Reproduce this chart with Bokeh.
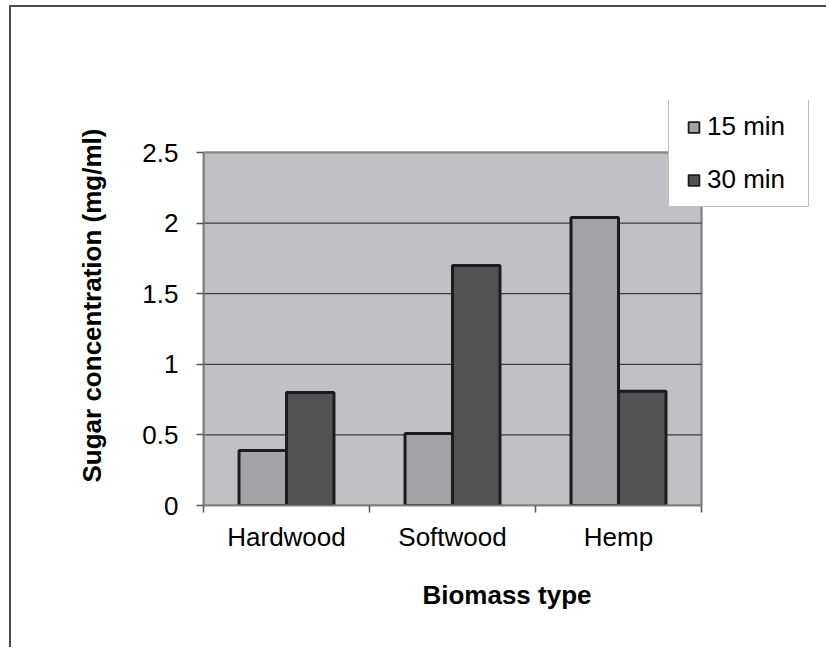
import numpy as np
from bokeh.plotting import figure
from bokeh.models import (Range1d, FixedTicker, Legend, LegendItem, Title,
                          ColumnDataSource, BoxAnnotation)
from bokeh.transform import dodge
from bokeh.embed import file_html
from bokeh.resources import INLINE

# ---- data ----
categories = ["Hardwood", "Softwood", "Hemp"]
series_names = ["15 min", "30 min"]
values_15 = [0.39, 0.51, 2.04]
values_30 = [0.80, 1.70, 0.81]
y_ticks = [0, 0.5, 1, 1.5, 2, 2.5]
x_title = "Biomass type"
y_title = "Sugar concentration (mg/ml)"

# ---- style / layout ----
FONT = "Liberation Sans"
FS = "26px"
BAR_W = 0.286
C15 = "#a2a3a7"
C30 = "#525254"
EDGE = "#1c1c1c"
PLOT_W, PLOT_H = 498, 353       # pixel size of the grey plot area
FRAME_W, FRAME_H = 607, 405     # frame enlarged so that the legend can overlap

n = len(categories)
y_top = y_ticks[-1]
pos = np.arange(n) + 0.5
src = ColumnDataSource(dict(x=pos, v15=values_15, v30=values_30))

p = figure(frame_width=FRAME_W, frame_height=FRAME_H,
           x_range=Range1d(0, n * FRAME_W / PLOT_W),
           y_range=Range1d(0, y_top * FRAME_H / PLOT_H),
           output_backend="svg", toolbar_location=None,
           min_border_left=192, min_border_right=16,
           min_border_top=93, min_border_bottom=142)
p.styles = {"margin-left": "9px", "margin-top": "5px",
            "border-left": "2px solid #4a4a4a", "border-top": "2px solid #4a4a4a"}

p.background_fill_color = "white"
p.border_fill_color = "white"
p.outline_line_color = None

# grey plot area with its border
p.add_layout(BoxAnnotation(left=0, right=n, bottom=0, top=y_top, level="image",
                           fill_color="#c0c1c5", fill_alpha=1,
                           line_color="#8a8a8a", line_width=2.5, line_alpha=1))

# horizontal gridlines, limited to the plot area
gvals = [t for t in y_ticks if 0 < t < y_top]
p.segment(x0=[0] * len(gvals), x1=[n] * len(gvals), y0=gvals, y1=gvals,
          line_color="#3c3c3c", line_width=1.2, level="underlay")

# bars
p.vbar(x=dodge("x", -BAR_W / 2), top="v15", width=BAR_W, bottom=0, source=src,
       fill_color=C15, line_color=EDGE, line_width=3)
p.vbar(x=dodge("x", BAR_W / 2), top="v30", width=BAR_W, bottom=0, source=src,
       fill_color=C30, line_color=EDGE, line_width=3)

# x axis
p.xaxis.ticker = FixedTicker(ticks=list(pos), minor_ticks=list(range(n + 1)))
p.xaxis.bounds = (0, n)
p.xaxis.major_label_overrides = {float(v): c for v, c in zip(pos, categories)}
p.xaxis.major_tick_out = 0
p.xaxis.major_tick_in = 0
p.xaxis.minor_tick_out = 7
p.xaxis.minor_tick_in = 0
p.xaxis.minor_tick_line_color = "#555555"
p.xaxis.minor_tick_line_width = 1.5
p.xaxis.major_label_standoff = 9
p.xaxis.axis_label = x_title
p.xaxis.axis_label_standoff = 25
p.xaxis.axis_label_text_font = FONT
p.xaxis.axis_label_text_font_size = FS
p.xaxis.axis_label_text_font_style = "bold"
p.xaxis.axis_label_text_color = "black"

# y axis
p.yaxis.ticker = FixedTicker(ticks=y_ticks)
p.yaxis.bounds = (0, y_top)
p.yaxis.minor_tick_out = 0
p.yaxis.minor_tick_in = 0
p.yaxis.major_tick_out = 7
p.yaxis.major_tick_in = 0
p.yaxis.major_tick_line_color = "#555555"
p.yaxis.major_tick_line_width = 1.5
p.yaxis.major_label_standoff = 18

for ax in (p.xaxis[0], p.yaxis[0]):
    ax.axis_line_color = "#808080"
    ax.axis_line_width = 2
    ax.major_label_text_font = FONT
    ax.major_label_text_font_size = FS
    ax.major_label_text_color = "black"

p.xgrid.visible = False
p.ygrid.visible = False

# y title
p.add_layout(Title(text=y_title, align="left", offset=23, standoff=66,
                   text_font=FONT, text_font_size=FS, text_font_style="bold",
                   text_color="black"), "left")

# legend swatches (renderers with a single non-drawn point)
s15 = p.scatter(x=[np.nan], y=[np.nan], marker="square", size=11, fill_color=C15,
                line_color=EDGE, line_width=1.8)
s30 = p.scatter(x=[np.nan], y=[np.nan], marker="square", size=11, fill_color=C30,
                line_color=EDGE, line_width=1.8)
legend = Legend(items=[LegendItem(label=series_names[0], renderers=[s15], index=0),
                       LegendItem(label=series_names[1], renderers=[s30], index=0)],
                location=(465, 298), orientation="vertical",
                padding=11, spacing=22, margin=0,
                glyph_width=27, glyph_height=28, label_standoff=0,
                label_width=90, label_height=30,
                label_text_font=FONT, label_text_font_size=FS,
                label_text_color="black",
                background_fill_color="white", background_fill_alpha=1,
                border_line_color="#7f7f7f", border_line_width=1.5)
p.add_layout(legend, "center")

open("out.html", "w").write(file_html(p, INLINE))
